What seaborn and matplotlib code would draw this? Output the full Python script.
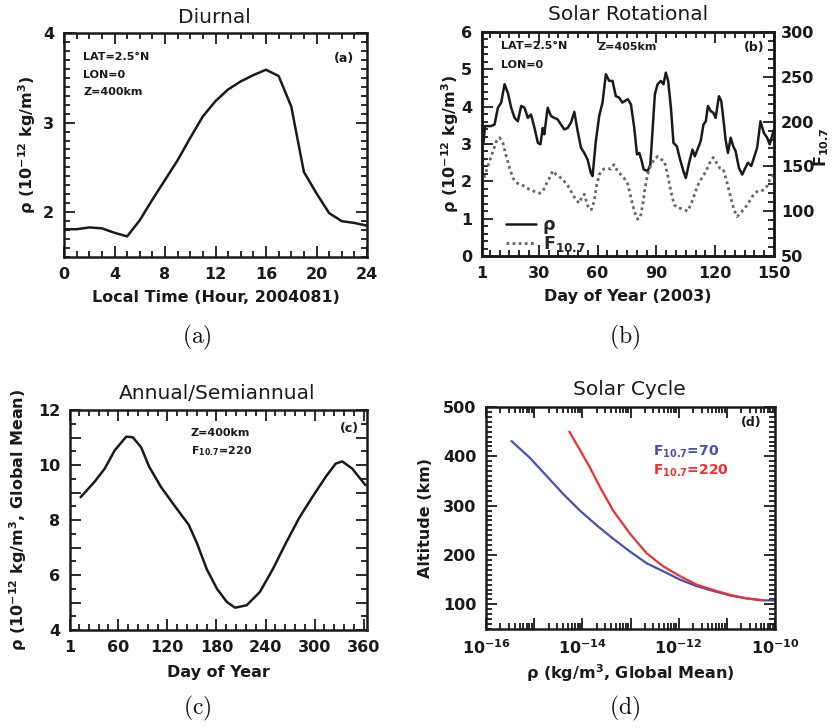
import numpy as np
import pandas as pd
import matplotlib
matplotlib.use("Agg")
import matplotlib.pyplot as plt
from matplotlib.ticker import MultipleLocator, FixedLocator, NullFormatter, FuncFormatter, LogLocator
import seaborn as sns

# ---------------- data ----------------
# (a) Diurnal
diurnal_hour = [0, 1, 2, 3, 4, 5, 6, 7, 8, 9, 10, 11, 12, 13, 14, 15, 16, 17, 18, 19, 20, 21, 22, 23, 24]
diurnal_rho = [1.81, 1.81, 1.83, 1.82, 1.77, 1.73, 1.91, 2.14, 2.36, 2.58, 2.83, 3.07, 3.24, 3.37,
               3.46, 3.53, 3.59, 3.52, 3.18, 2.45, 2.21, 1.99, 1.90, 1.88, 1.85]

# (b) Solar rotational
rot_rho_day = [1, 1.8, 2.5, 5.7, 7.4, 9.1, 10.8, 12.5, 14.2, 15.9, 17.6, 19.3, 21.0, 22.7, 24.4, 26.0,
               27.8, 29.5, 30.8, 32.0, 32.8, 34.5, 36.2, 37.9, 39.6, 41.3, 43.0, 44.7, 46.4, 48.1,
               49.8, 51.5, 53.2, 54.9, 56.5, 57.4, 59.1, 60.8, 62.5, 64.2, 65.9, 67.6, 69.3, 71.0,
               72.6, 75.4, 77.0, 78.7, 80.1, 81.3, 82.5, 83.5, 85.5, 86.9, 88.1, 89.2, 90.6, 92.3,
               93.6, 94.8, 96.0, 97.4, 98.7, 100.4, 102.1, 103.8, 105.0, 106.7, 108.4, 109.6, 111.3,
               112.6, 114.0, 115.2, 116.3, 117.7, 119.0, 120.2, 121.9, 123.1, 124.1, 125.3, 126.5,
               127.9, 129.2, 130.4, 132.1, 133.8, 135.0, 136.7, 138.4, 140.0, 141.4, 143.1, 144.8,
               146.5, 147.8, 150.0]
rot_rho = [3.02, 3.05, 3.48, 3.48, 3.52, 3.97, 4.11, 4.60, 4.37, 3.97, 3.70, 3.61, 4.02, 3.97, 3.70,
           3.79, 3.43, 3.03, 2.99, 3.43, 3.26, 3.97, 3.75, 3.70, 3.66, 3.52, 3.39, 3.43, 3.57, 3.86,
           3.35, 2.90, 2.76, 2.58, 2.23, 2.14, 3.08, 3.75, 4.11, 4.87, 4.69, 4.69, 4.28, 4.24, 4.11,
           4.20, 4.06, 3.43, 2.72, 2.76, 2.54, 2.32, 2.27, 2.45, 3.43, 4.33, 4.60, 4.69, 4.60, 4.91,
           4.69, 3.97, 3.03, 2.94, 2.58, 2.27, 2.09, 2.50, 2.85, 2.67, 2.90, 3.08, 3.52, 3.61, 4.02,
           3.88, 3.84, 3.70, 4.28, 4.15, 3.70, 3.12, 2.76, 3.17, 2.94, 2.81, 2.36, 2.18, 2.32, 2.50,
           2.41, 2.67, 2.90, 3.61, 3.30, 3.17, 2.99, 3.39]

rot_f107_day = [1, 3.2, 4.9, 6.6, 8.3, 10.0, 11.7, 13.4, 15.1, 16.8, 18.4, 20.1, 22.7, 25.2, 27.8,
                30.3, 32.0, 33.7, 35.4, 37.1, 38.8, 40.5, 42.2, 43.8, 45.5, 47.2, 48.9, 50.6, 51.8,
                53.2, 54.5, 55.7, 56.9, 58.2, 59.6, 60.9, 63.0, 65.0, 66.7, 68.4, 70.1, 71.8, 73.5,
                75.4, 77.0, 78.7, 80.4, 81.8, 83.0, 84.2, 85.5, 87.2, 88.9, 90.6, 92.3, 94.0, 95.7,
                97.4, 99.1, 100.8, 102.5, 104.1, 105.8, 107.5, 109.2, 110.9, 112.6, 114.3, 116.0,
                117.7, 119.0, 120.7, 122.4, 124.1, 125.8, 127.5, 129.5, 131.2, 132.9, 134.6, 136.3,
                138.0, 139.7, 141.4, 143.1, 144.8, 146.5, 147.8, 150.0]
rot_f107 = [131, 145, 156, 167, 178, 182, 176, 161, 148, 137, 132, 130, 128, 124, 122, 120, 122,
            130, 137, 145, 141, 139, 134, 132, 126, 119, 113, 109, 115, 119, 109, 102, 102, 111,
            130, 141, 147, 148, 147, 152, 145, 141, 137, 130, 115, 100, 91, 93, 107, 126, 141,
            152, 158, 161, 158, 156, 141, 122, 107, 104, 103, 102, 100, 107, 117, 128, 135, 141,
            148, 156, 160, 154, 148, 147, 134, 119, 102, 94, 98, 102, 107, 113, 119, 122, 122,
            124, 128, 135, 143]

# (c) Annual / semiannual
annual_day = [14, 31, 43.5, 55.6, 69.7, 77.7, 87.8, 97.9, 112, 128, 146, 156, 168, 180.6, 192.7,
              202.7, 216.9, 233, 249, 265, 281, 297.5, 313.6, 325.7, 333.8, 345.9, 362]
annual_rho = [8.83, 9.39, 9.87, 10.53, 11.03, 11.01, 10.65, 9.93, 9.21, 8.55, 7.83, 7.17, 6.22,
              5.50, 5.02, 4.81, 4.90, 5.38, 6.22, 7.17, 8.07, 8.85, 9.57, 10.05, 10.13, 9.87, 9.27]

# (d) Solar cycle (log10 of density, altitude km)
low_log_rho = [-15.47, -15.09, -14.74, -14.39, -14.05, -13.70, -13.36, -13.01, -12.66, -12.32,
               -11.97, -11.63, -11.28, -10.93, -10.59, -10.24, -10.0]
low_alt = [431, 397, 360, 323, 290, 260, 233, 207, 183, 167, 150, 137, 127, 118, 112, 108, 108]
high_log_rho = [-14.27, -14.05, -13.84, -13.63, -13.36, -13.01, -12.66, -12.32, -11.97, -11.63,
                -11.28, -10.93, -10.59, -10.24]
high_alt = [450, 413, 377, 337, 290, 243, 203, 177, 157, 140, 129, 119, 112, 108]

# ---------------- style ----------------
sns.set_theme(style="ticks")
plt.rcParams['font.family'] = ['DejaVu Sans']
plt.rcParams['mathtext.fontset'] = 'dejavusans'
plt.rcParams['mathtext.default'] = 'bf'
INK = '#1a1a1a'
BLUE = '#4650b4'
RED = '#ee3030'
TICK_FS = 11.5
LAB_FS = 11.5
TITLE_FS = 14.5
ANN_FS = 8

fig = plt.figure(figsize=(8.38, 7.28), dpi=100)
fig.patch.set_facecolor('white')


def style_ax(ax, right=True):
    for s in ax.spines.values():
        s.set_linewidth(1.8)
        s.set_color(INK)
    ax.tick_params(which='both', direction='in', top=True, right=right, bottom=True, left=True,
                   width=1.3, colors=INK, labelcolor=INK)
    ax.tick_params(which='major', length=8, labelsize=TICK_FS, pad=7)
    ax.tick_params(which='minor', length=4)
    for lab in ax.get_xticklabels() + ax.get_yticklabels():
        lab.set_fontweight('bold')
    ax.set_facecolor('white')


def set_labels(ax, xlabel, ylabel, xy, yx):
    ax.set_xlabel(xlabel, fontsize=LAB_FS, fontweight='bold', color=INK)
    ax.set_ylabel(ylabel, fontsize=LAB_FS, fontweight='bold', color=INK)
    ax.xaxis.set_label_coords(0.5, xy)
    ax.xaxis.label.set_va('center')
    ax.yaxis.set_label_coords(yx, 0.5)
    ax.yaxis.label.set_va('center')


def ann(ax, x, y, s, ha='left', color=INK, fs=ANN_FS):
    ax.text(x, y, s, transform=ax.transAxes, ha=ha, va='center', fontsize=fs,
            fontweight='bold', color=color)


rho_label = "ρ (10$^{-12}$ kg/m$^3$)"

# ---------------- (a) ----------------
ax = fig.add_axes([64 / 838, 1 - 257 / 728, 303 / 838, 224 / 728])
dfa = pd.DataFrame({'hour': diurnal_hour, 'rho': diurnal_rho})
sns.lineplot(data=dfa, x='hour', y='rho', ax=ax, color=INK, lw=1.8, sort=False, estimator=None)
ax.set_xlim(0, 24)
ax.set_ylim(1.5, 4)
ax.xaxis.set_major_locator(MultipleLocator(4))
ax.xaxis.set_minor_locator(MultipleLocator(1))
ax.yaxis.set_major_locator(MultipleLocator(1))
ax.yaxis.set_minor_locator(MultipleLocator(0.1))
style_ax(ax)
set_labels(ax, "Local Time (Hour, 2004081)", rho_label, -0.183, -0.122)
ax.text(0.495, 1.071, "Diurnal", transform=ax.transAxes, ha='center', va='center',
        fontsize=TITLE_FS, color=INK)
ann(ax, 0.063, 0.893, "LAT=2.5°N")
ann(ax, 0.063, 0.8125, "LON=0")
ann(ax, 0.063, 0.737, "Z=400km")
ann(ax, 0.957, 0.888, "(a)", ha='right', fs=9)

# ---------------- (b) ----------------
ax = fig.add_axes([482 / 838, 1 - 256 / 728, 292 / 838, 224 / 728])
dfr = pd.DataFrame({'day': rot_rho_day, 'rho': rot_rho})
dff = pd.DataFrame({'day': rot_f107_day, 'f107': rot_f107})
sns.lineplot(data=dfr, x='day', y='rho', ax=ax, color=INK, lw=1.8, sort=False, estimator=None)
ax.set_xlim(1, 150)
ax.set_ylim(0, 6)
ax.xaxis.set_major_locator(FixedLocator([1, 30, 60, 90, 120, 150]))
ax.xaxis.set_minor_locator(MultipleLocator(5))
ax.yaxis.set_major_locator(MultipleLocator(1))
ax.yaxis.set_minor_locator(MultipleLocator(0.2))
style_ax(ax, right=False)
ax2 = ax.twinx()
sns.lineplot(data=dff, x='day', y='f107', ax=ax2, color='#666666', lw=2.0, ls=(0, (1, 1.2)),
             sort=False, estimator=None)
ax2.set_ylim(50, 300)
ax2.yaxis.set_major_locator(MultipleLocator(50))
ax2.yaxis.set_minor_locator(MultipleLocator(10))
ax2.tick_params(which='both', direction='in', colors=INK, width=1.3, right=True, left=False)
ax2.tick_params(which='major', length=8, labelsize=TICK_FS, pad=5)
ax2.tick_params(which='minor', length=4)
for lab in ax2.get_yticklabels():
    lab.set_fontweight('bold')
for s in ax2.spines.values():
    s.set_linewidth(1.8)
    s.set_color(INK)
ax2.set_ylabel("F$_{10.7}$", fontsize=LAB_FS, fontweight='bold', color=INK)
ax2.yaxis.set_label_coords(1.163, 0.487)
ax2.yaxis.label.set_va('center')
set_labels(ax, "Day of Year (2003)", rho_label, -0.183, -0.11)
ax.text(0.5, 1.076, "Solar Rotational", transform=ax.transAxes, ha='center', va='center',
        fontsize=TITLE_FS, color=INK)
ann(ax2, 0.065, 0.9375, "LAT=2.5°N")
ann(ax2, 0.065, 0.854, "LON=0")
ann(ax2, 0.397, 0.933, "Z=405km")
ann(ax2, 0.969, 0.933, "(b)", ha='right', fs=9)
h1 = ax.get_lines()[0]
h2 = ax2.get_lines()[0]
ax2.legend([h1, h2], ["ρ", "F$_{10.7}$"], loc='lower left', bbox_to_anchor=(0.03, -0.06),
           frameon=False, handlelength=1.7, handletextpad=0.4, labelspacing=0.0,
           prop={'size': 12.5, 'weight': 'bold'})

# ---------------- (c) ----------------
ax = fig.add_axes([70 / 838, 1 - 630 / 728, 297 / 838, 220 / 728])
dfc = pd.DataFrame({'day': annual_day, 'rho': annual_rho})
sns.lineplot(data=dfc, x='day', y='rho', ax=ax, color=INK, lw=1.8, sort=False, estimator=None)
ax.set_xlim(1, 364)
ax.set_ylim(4, 12)
ax.xaxis.set_major_locator(FixedLocator([1, 60, 120, 180, 240, 300, 360]))
ax.xaxis.set_minor_locator(MultipleLocator(12))
ax.yaxis.set_major_locator(MultipleLocator(1))
ax.yaxis.set_major_formatter(FuncFormatter(lambda v, p: f"{int(round(v))}" if int(round(v)) % 2 == 0 else ""))
ax.yaxis.set_minor_locator(MultipleLocator(0.5))
style_ax(ax)
set_labels(ax, "Day of Year", "ρ (10$^{-12}$ kg/m$^3$, Global Mean)", -0.195, -0.175)
ax.text(0.495, 1.077, "Annual/Semiannual", transform=ax.transAxes, ha='center', va='center',
        fontsize=TITLE_FS, color=INK)
ann(ax, 0.407, 0.895, "Z=400km")
ann(ax, 0.407, 0.814, "F$_{10.7}$=220")
ann(ax, 0.973, 0.918, "(c)", ha='right', fs=9)

# ---------------- (d) ----------------
ax = fig.add_axes([486 / 838, 1 - 629 / 728, 289 / 838, 222 / 728])
dfl = pd.DataFrame({'rho': 10.0 ** np.array(low_log_rho), 'alt': low_alt})
dfh = pd.DataFrame({'rho': 10.0 ** np.array(high_log_rho), 'alt': high_alt})
sns.lineplot(data=dfl, x='rho', y='alt', ax=ax, color=BLUE, lw=1.6, sort=False, estimator=None)
sns.lineplot(data=dfh, x='rho', y='alt', ax=ax, color=RED, lw=1.6, sort=False, estimator=None)
ax.set_xscale('log')
ax.set_xlim(1e-16, 1e-10)
ax.set_ylim(50, 500)
ax.xaxis.set_major_locator(LogLocator(base=10, numticks=20))
ax.xaxis.set_minor_locator(LogLocator(base=10, subs=np.arange(2, 10), numticks=100))
ax.xaxis.set_minor_formatter(NullFormatter())
ax.xaxis.set_major_formatter(FuncFormatter(
    lambda v, p: ("10$^{%d}$" % int(round(np.log10(v)))) if int(round(np.log10(v))) % 2 == 0 else ""))
ax.yaxis.set_major_locator(MultipleLocator(100))
ax.yaxis.set_minor_locator(MultipleLocator(10))
style_ax(ax)
set_labels(ax, "ρ (kg/m$^3$, Global Mean)", "Altitude (km)", -0.198, -0.208)
ax.text(0.495, 1.077, "Solar Cycle", transform=ax.transAxes, ha='center', va='center',
        fontsize=TITLE_FS, color=INK)
ann(ax, 0.578, 0.797, "F$_{10.7}$=70", color=BLUE, fs=10)
ann(ax, 0.578, 0.712, "F$_{10.7}$=220", color=RED, fs=10)
ann(ax, 0.952, 0.928, "(d)", ha='right', fs=9)

# ---------------- sub-captions ----------------
for (x, y, s) in [(197, 337, "(a)"), (625, 337, "(b)"), (197, 708, "(c)"), (625, 708, "(d)")]:
    fig.text(x / 838, 1 - y / 728, r"$\mathrm{%s}$" % s, ha='center', va='center', fontsize=17,
             math_fontfamily='cm', color='#111111')

fig.savefig("out.png", dpi=100, facecolor='white')
